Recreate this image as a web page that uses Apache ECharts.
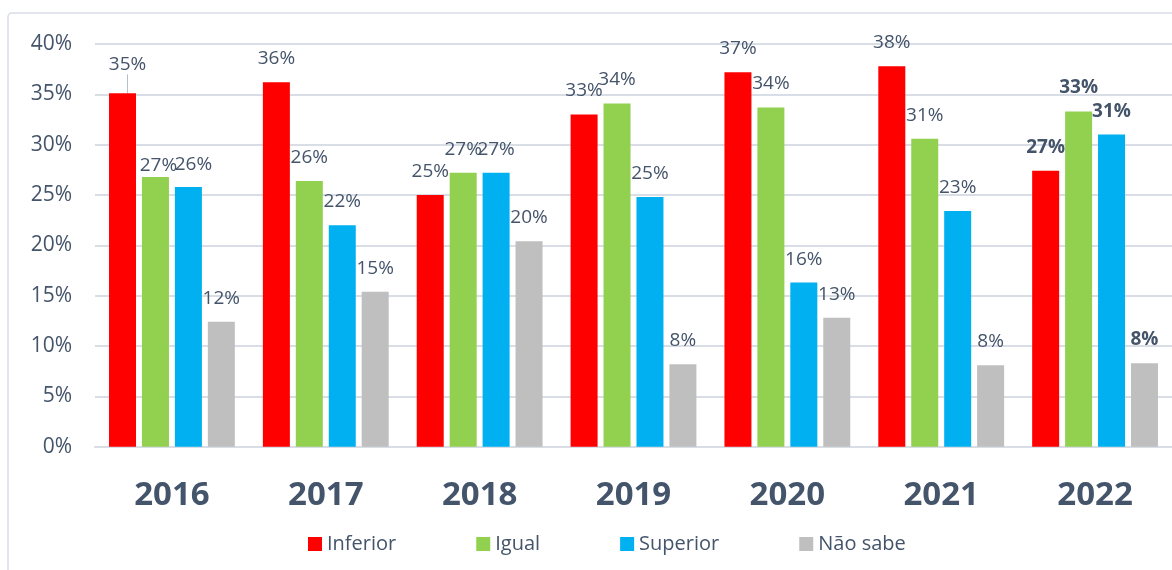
<!DOCTYPE html>
<html>
<head>
<meta charset="utf-8">
<script src="https://cdn.jsdelivr.net/npm/echarts@6/dist/echarts.min.js"></script>
<style>
html,body{margin:0;padding:0;background:#fff;}
#chart{width:1172px;height:570px;}
</style>
</head>
<body>
<div id="chart"></div>
<script>
const categories = ['2016','2017','2018','2019','2020','2021','2022'];
const seriesNames = ['Inferior','Igual','Superior','Não sabe'];
const inferior = [35.1, 36.2, 25.0, 33.0, 37.2, 37.8, 27.4];
const igual    = [26.8, 26.4, 27.2, 34.1, 33.7, 30.6, 33.3];
const superior = [25.8, 22.0, 27.2, 24.8, 16.3, 23.4, 31.0];
const naoSabe  = [12.4, 15.4, 20.4, 8.2, 12.8, 8.1, 8.3];
const yTicks = [0, 5, 10, 15, 20, 25, 30, 35, 40];

const colors = ['#FF0000', '#92D050', '#00B0F0', '#BFBFBF'];
const textColor = '#44546A';
const FONT = 'Open Sans';
const allValues = [inferior, igual, superior, naoSabe];

// manual label shifts (Excel-style adjustments) for the first year
const labelShift = {
  '0-0': {dx: 5, dy: -5, line: true},
  '1-0': {dx: 3, dy: 12},
  '2-0': {dx: 5, dy: 1}
};

const series = allValues.map((vals, si) => ({
  name: seriesNames[si],
  type: 'bar',
  barWidth: 27,
  barGap: '22%',
  itemStyle: {color: colors[si]},
  data: vals.map((v, i) => {
    const s = labelShift[si + '-' + i];
    return {
      value: v,
      label: i === categories.length - 1 ? {fontWeight: 'bold'} : {},
      labelLine: {show: !!(s && s.line), lineStyle: {color: '#B4BFCD', width: 1}}
    };
  }),
  label: {
    show: true,
    position: 'top',
    distance: 14,
    fontFamily: FONT,
    fontSize: 19,
    color: textColor,
    formatter: p => Math.round(p.value) + '%'
  },
  labelLine: {show: false, lineStyle: {color: '#B4BFCD', width: 1}},
  labelLayout: function (params) {
    const s = labelShift[params.seriesIndex + '-' + params.dataIndex];
    if (s) return {dx: s.dx, dy: s.dy};
    return {};
  }
}));

const chart = echarts.init(document.getElementById('chart'));
chart.setOption({
  animation: false,
  backgroundColor: '#ffffff',
  grid: {left: 95, right: 0, top: 44, bottom: 123.3, containLabel: false},
  legend: {
    data: seriesNames,
    left: 308,
    top: 534,
    padding: 0,
    itemWidth: 14,
    itemHeight: 14,
    itemGap: 80,
    icon: 'rect',
    textStyle: {fontFamily: FONT, fontSize: 20, color: textColor}
  },
  xAxis: {
    type: 'category',
    data: categories,
    axisTick: {show: false},
    axisLine: {show: true, lineStyle: {color: '#D9DEE6', width: 2}},
    axisLabel: {
      margin: 32,
      fontFamily: FONT,
      fontSize: 33,
      fontWeight: 'bold',
      color: textColor
    }
  },
  yAxis: {
    type: 'value',
    min: yTicks[0],
    max: yTicks[yTicks.length - 1],
    interval: 5,
    axisLine: {show: false},
    axisTick: {show: false},
    splitLine: {lineStyle: {color: '#D9DEE6', width: 2}},
    axisLabel: {
      margin: 23,
      fontFamily: FONT,
      fontSize: 21,
      color: textColor,
      formatter: '{value}%'
    }
  },
  graphic: [{
    type: 'rect',
    shape: {x: 8, y: 13, width: 1300, height: 700, r: 4},
    style: {fill: 'none', stroke: '#D9DEE6', lineWidth: 1.5},
    silent: true,
    z: -1
  }],
  series: series
});
</script>
</body>
</html>
